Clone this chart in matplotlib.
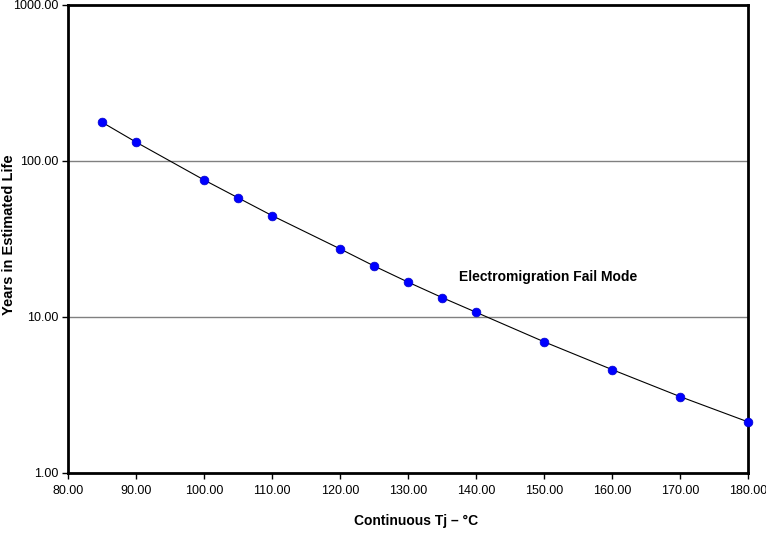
import matplotlib.pyplot as plt
from matplotlib.ticker import FixedLocator, FixedFormatter

plt.rcParams['font.family'] = ['Liberation Sans', 'DejaVu Sans']

# junction temperature (C) and estimated life (years)
temps = [85, 90, 100, 105, 110, 120, 125, 130, 135, 140, 150, 160, 170, 180]
years = [177, 132, 75.5, 58, 44.6, 27.3, 21.2, 16.7, 13.3, 10.7, 6.92, 4.59, 3.08, 2.12]

x_ticks = [80, 90, 100, 110, 120, 130, 140, 150, 160, 170, 180]
y_ticks = [1, 10, 100, 1000]

fig = plt.figure(figsize=(7.66, 5.36), dpi=100)
ax = fig.add_axes([0.0888, 0.118, 0.8877, 0.8727])

ax.plot(temps, years, color='black', linewidth=0.8, zorder=2)
ax.plot(temps, years, 'o', color='#0000ff', markersize=6.3, markeredgecolor='#0000cc',
        markeredgewidth=0.5, zorder=3, clip_on=False)

ax.set_yscale('log')
ax.set_xlim(80, 180)
ax.set_ylim(1, 1000)

ax.xaxis.set_major_locator(FixedLocator(x_ticks))
ax.xaxis.set_major_formatter(FixedFormatter([f'{v:.2f}' for v in x_ticks]))
ax.yaxis.set_major_locator(FixedLocator(y_ticks))
ax.yaxis.set_major_formatter(FixedFormatter([f'{v:.2f}' for v in y_ticks]))
ax.yaxis.set_minor_locator(FixedLocator([]))
ax.tick_params(labelsize=9, direction='out', length=4, width=1)
ax.tick_params(axis='x', pad=5)
ax.tick_params(axis='y', pad=3)

# gridlines only at the inner decades
for v in y_ticks[1:-1]:
    ax.axhline(v, color='#808080', linewidth=1, zorder=1)

for s in ax.spines.values():
    s.set_linewidth(2)
    s.set_color('black')

ax.text(137.5, 18.0, 'Electromigration Fail Mode', fontsize=10, fontweight='bold',
        ha='left', va='center')

fig.text(0.543, 0.015, 'Continuous Tj \u2013 \u00b0C', fontsize=10, fontweight='bold',
         ha='center', va='bottom')
fig.text(0.003, 0.563, 'Years in Estimated Life', fontsize=10.5, fontweight='bold',
         rotation=90, ha='left', va='center')

fig.savefig('out.png', dpi=100)
